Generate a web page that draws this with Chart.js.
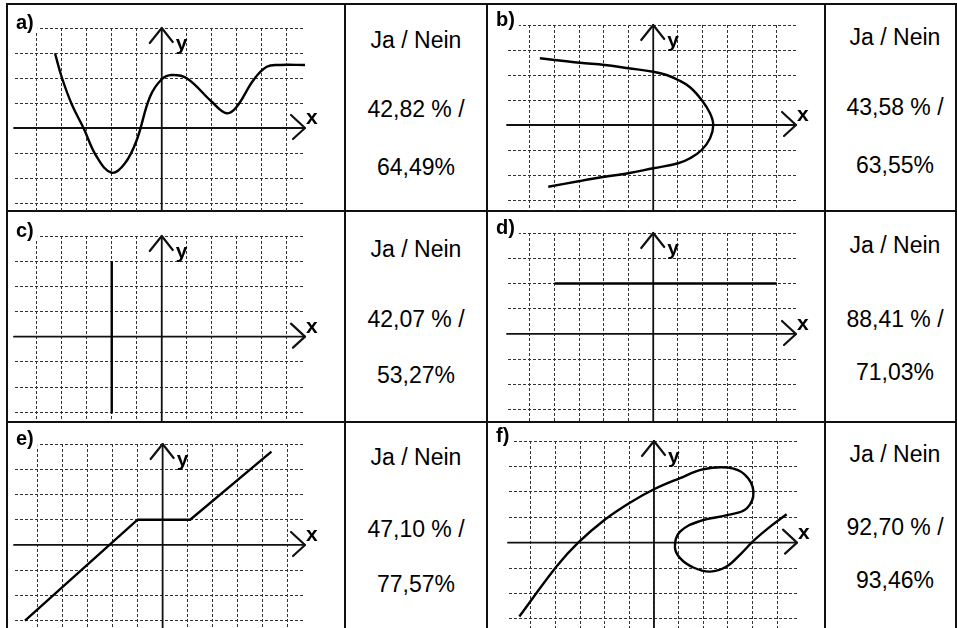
<!DOCTYPE html>
<html>
<head>
<meta charset="utf-8">
<script src="https://cdn.jsdelivr.net/npm/chart.js@4.4.1/dist/chart.umd.min.js"></script>
<style>
  body { margin: 0; background: #fff; }
  #page { position: relative; width: 957px; height: 628px; overflow: hidden; background: #fff;
          font-family: "Liberation Sans", Arial, sans-serif; }
  .rule { position: absolute; background: #111; }
  canvas { position: absolute; }
  .txt { position: absolute; text-align: center; font-size: 23px; line-height: 23px; color: #000; white-space: nowrap; }
</style>
</head>
<body>
<div id="page"></div>
<script>
const panelLabels = ["a)", "b)", "c)", "d)", "e)", "f)"];
const answerHead = "Ja / Nein";
const yesValues = ["42,82 %", "43,58 %", "42,07 %", "88,41 %", "47,10 %", "92,70 %"];
const noValues = ["64,49%", "63,55%", "53,27%", "71,03%", "77,57%", "93,46%"];

const xGridTicks = [-5, -4, -3, -2, -1, 0, 1, 2, 3, 4, 5];
const yGridTicks = [-3, -2, -1, 0, 1, 2, 3, 4];

// curves, in grid units
const curveA = [
  {x: -4.27, y: 2.99}, {x: -4.0, y: 2.03}, {x: -3.6, y: 0.95}, {x: -3.13, y: 0}, {x: -2.6, y: -1.15},
  {x: -2.0, y: -1.79}, {x: -1.47, y: -1.41}, {x: -1.0, y: -0.48}, {x: -0.47, y: 1.25},
  {x: 0, y: 1.95}, {x: 0.4, y: 2.12}, {x: 1.0, y: 1.99}, {x: 2.0, y: 1.05}, {x: 2.6, y: 0.59},
  {x: 3.0, y: 0.85}, {x: 3.67, y: 1.92}, {x: 4.2, y: 2.45}, {x: 4.73, y: 2.52}, {x: 5.73, y: 2.52}
];
const curveB = [
  {x: -4.59, y: 2.67}, {x: -2.97, y: 2.49}, {x: -1.96, y: 2.4}, {x: -1.01, y: 2.27}, {x: 0, y: 2.13},
  {x: 0.54, y: 2.0}, {x: 1.01, y: 1.8}, {x: 1.49, y: 1.51}, {x: 1.96, y: 1.0}, {x: 2.3, y: 0.47},
  {x: 2.43, y: 0}, {x: 2.3, y: -0.53}, {x: 1.96, y: -1.0}, {x: 1.49, y: -1.33}, {x: 1.01, y: -1.53},
  {x: 0, y: -1.73}, {x: -1.01, y: -1.93}, {x: -1.96, y: -2.07}, {x: -2.97, y: -2.24}, {x: -4.25, y: -2.47}
];
const curveC = [{x: -2, y: 3}, {x: -2, y: -3.05}];
const curveD = [{x: -4, y: 2}, {x: 5, y: 2}];
const curveE = [{x: -5.5, y: -3}, {x: -1, y: 1}, {x: 1.1, y: 1}, {x: 4.35, y: 3.7}];
const curveF = [
  {x: -5.47, y: -2.91}, {x: -3.96, y: -0.94}, {x: -3.08, y: 0}, {x: -2.0, y: 0.9}, {x: -0.98, y: 1.57},
  {x: 0, y: 2.1}, {x: 1.06, y: 2.54}, {x: 2.0, y: 2.89}, {x: 3.02, y: 2.95}, {x: 3.7, y: 2.67},
  {x: 4.04, y: 2.01}, {x: 3.77, y: 1.35}, {x: 3.02, y: 1.09}, {x: 1.87, y: 0.85}, {x: 1.06, y: 0.43},
  {x: 0.85, y: -0.16}, {x: 1.06, y: -0.61}, {x: 1.6, y: -0.98}, {x: 2.28, y: -1.14}, {x: 2.95, y: -0.94},
  {x: 3.56, y: -0.41}, {x: 4.04, y: 0.07}, {x: 4.72, y: 0.63}, {x: 5.39, y: 1.12}
];
const curves = [curveA, curveB, curveC, curveD, curveE, curveF];

// layout: canvas box, padding to chart area, and visible range in grid units
const boxes = [
  {l: 8,   t: 5,   w: 336, h: 206, pad: [7, 23, 39, 0],  x: [-5.87, 5.73], y: [-3.32, 4], tension: 0.4},
  {l: 488, t: 5,   w: 336, h: 206, pad: [20, 20, 28, 0], x: [-5.88, 5.78], y: [-3.44, 4], tension: 0.4},
  {l: 8,   t: 213, w: 336, h: 208, pad: [7, 23, 39, 0],  x: [-5.87, 5.73], y: [-3.35, 4], tension: 0},
  {l: 488, t: 213, w: 336, h: 208, pad: [20, 20, 28, 0], x: [-5.88, 5.78], y: [-3.45, 4], tension: 0},
  {l: 8,   t: 423, w: 336, h: 205, pad: [7, 21, 39, 0],  x: [-5.9, 5.69],  y: [-3.29, 4], tension: 0},
  {l: 488, t: 423, w: 336, h: 205, pad: [21, 18, 27, 0], x: [-5.89, 5.81], y: [-3.36, 4], tension: 0.4}
];
const textCols = [{l: 346, w: 140}, {l: 830, w: 130}];
const textBaselines = [[48, 117, 175], [45, 115, 173], [257, 327, 383], [253, 327, 380], [465, 537, 592], [462, 535, 588]];

const page = document.getElementById("page");
const FONT = "'Liberation Sans', Arial, sans-serif";

function rule(l, t, w, h) {
  const d = document.createElement("div");
  d.className = "rule";
  d.style.cssText = `left:${l}px;top:${t}px;width:${w}px;height:${h}px;`;
  page.appendChild(d);
}
rule(6, 3, 951, 2);
rule(6, 210, 951, 2);
rule(6, 421, 951, 2);
[6, 344, 486, 824, 955].forEach((x) => rule(x, 3, 2, 625));

const axesPlugin = {
  id: "axes",
  beforeDatasetsDraw(chart, args, opts) {
    const { ctx, chartArea: a } = chart;
    const x0 = chart.scales.x.getPixelForValue(0);
    const y0 = chart.scales.y.getPixelForValue(0);
    ctx.save();
    ctx.strokeStyle = "#111";
    ctx.lineCap = "round";
    ctx.lineJoin = "round";
    ctx.lineWidth = 1.8;
    ctx.beginPath();
    ctx.moveTo(a.left - 1, y0); ctx.lineTo(a.right, y0);
    ctx.moveTo(x0, a.top); ctx.lineTo(x0, a.bottom);
    ctx.stroke();
    ctx.lineWidth = 2.2;
    ctx.beginPath();
    ctx.moveTo(a.right - 14, y0 - 13); ctx.lineTo(a.right, y0); ctx.lineTo(a.right - 12, y0 + 11);
    ctx.moveTo(x0 - 12, a.top + 15); ctx.lineTo(x0, a.top); ctx.lineTo(x0 + 11, a.top + 14);
    ctx.stroke();
    ctx.fillStyle = "#000";
    ctx.font = `bold 21px ${FONT}`;
    ctx.fillText("y", x0 + 14, a.top + 22);
    ctx.fillText("x", a.right + 1, y0 - 4);
    ctx.font = `bold 20px ${FONT}`;
    const w = ctx.measureText(opts.label).width;
    ctx.fillStyle = "#fff";
    ctx.fillRect(6, a.top - 17, w + 6, 20);
    ctx.fillStyle = "#000";
    ctx.fillText(opts.label, 8, a.top + 1);
    ctx.restore();
  }
};

function gridScale(range, ticks) {
  return {
    type: "linear", min: range[0], max: range[1],
    afterBuildTicks: (s) => { s.ticks = ticks.map((v) => ({ value: v })); },
    ticks: { display: false },
    grid: { color: "#333", lineWidth: 1, drawTicks: false },
    border: { display: false, dash: [3, 2] }
  };
}

boxes.forEach((b, i) => {
  const cv = document.createElement("canvas");
  cv.width = b.w; cv.height = b.h;
  cv.style.cssText = `left:${b.l}px;top:${b.t}px;width:${b.w}px;height:${b.h}px;`;
  page.appendChild(cv);

  new Chart(cv, {
    type: "scatter",
    data: {
      datasets: [{
        data: curves[i], showLine: true, borderColor: "#000", borderWidth: 2.4, pointRadius: 0,
        tension: b.tension, fill: false
      }]
    },
    options: {
      responsive: false, animation: false, events: [],
      layout: { padding: { left: b.pad[0], top: b.pad[1], right: b.pad[2], bottom: b.pad[3] } },
      plugins: { legend: { display: false }, tooltip: { enabled: false }, axes: { label: panelLabels[i] } },
      scales: { x: gridScale(b.x, xGridTicks), y: gridScale(b.y, yGridTicks) }
    },
    plugins: [axesPlugin]
  });

  const col = textCols[i % 2];
  const lines = [answerHead, `${yesValues[i]} /`, noValues[i]];
  lines.forEach((s, k) => {
    const d = document.createElement("div");
    d.className = "txt";
    d.textContent = s;
    d.style.cssText = `left:${col.l}px;width:${col.w}px;top:${textBaselines[i][k] - 19.4}px;`;
    page.appendChild(d);
  });
});
</script>
</body>
</html>
